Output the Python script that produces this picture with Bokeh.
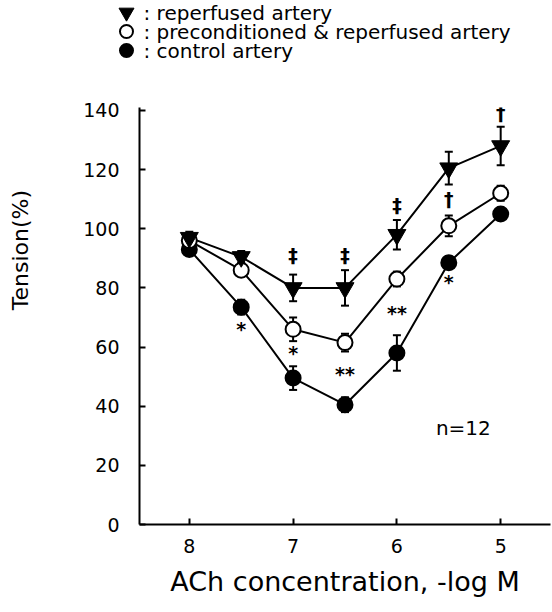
import math
from bokeh.plotting import figure
from bokeh.layouts import column, row
from bokeh.models import (ColumnDataSource, Whisker, TeeHead, Label, FixedTicker, Range1d)
from bokeh.core.properties import value
from bokeh.embed import file_html
from bokeh.resources import INLINE

FONT = "DejaVu Sans"

conc = [8, 7.5, 7, 6.5, 6, 5.5, 5]
reperfused = [97, 90.5, 80, 80, 98, 120.5, 128]
reperfused_err = [2, 2, 4.5, 6, 5, 5.5, 6.5]
precond = [96, 86, 66, 61.5, 83, 101, 112]
precond_err = [2, 2, 4, 3, 2.5, 3.5, 2.5]
control = [93, 73.5, 49.5, 40.5, 58, 88.5, 105]
control_err = [2, 2.5, 4, 2.5, 6, 1.5, 2]

ann_x = [7, 6.5, 6, 5, 5.5, 7.5, 7, 6.5, 6, 5.5]
ann_y = [91, 91, 108, 139, 110, 66, 58, 51, 71.5, 82]
ann_text = ["‡", "‡", "‡", "†", "†", "*", "*", "**", "**", "*"]

y_ticks = [0, 20, 40, 60, 80, 100, 120, 140]
x_ticks = [8, 7, 6, 5]

legend_labels = [": reperfused artery", ": preconditioned & reperfused artery", ": control artery"]
y_title = "Tension(%)"
x_title = "ACh concentration, -log M"

STYLE_R = dict(marker="inverted_triangle", size=18, fill_color="black", line_color="black", line_width=1)
STYLE_P = dict(marker="circle", size=15, fill_color="white", line_color="black", line_width=2)
STYLE_C = dict(marker="circle", size=15, fill_color="black", line_color="black", line_width=2)

# ---------- main plot ----------
p = figure(width=512, height=550, output_backend="svg", toolbar_location=None,
           x_range=Range1d(8.48, 4.52), y_range=Range1d(0, 141),
           min_border_left=99, min_border_right=2, min_border_top=45, min_border_bottom=88)
p.outline_line_color = None
p.grid.visible = False

def series_source(vals, errs):
    return ColumnDataSource(dict(x=conc, y=vals,
                                 lo=[v - e for v, e in zip(vals, errs)],
                                 hi=[v + e for v, e in zip(vals, errs)]))

src_r = series_source(reperfused, reperfused_err)
src_p = series_source(precond, precond_err)
src_c = series_source(control, control_err)

for s in (src_r, src_p, src_c):
    p.line("x", "y", source=s, line_color="black", line_width=2)
    p.add_layout(Whisker(source=s, base="x", upper="hi", lower="lo", line_width=2, line_color="black",
                         upper_head=TeeHead(size=8, line_width=2),
                         lower_head=TeeHead(size=8, line_width=2)))

p.scatter("x", "y", source=src_c, **STYLE_C)
p.scatter("x", "y", source=src_p, **STYLE_P)
p.scatter("x", "y", source=src_r, **STYLE_R)

ann_src = ColumnDataSource(dict(x=ann_x, y=ann_y, t=ann_text))
p.text("x", "y", text="t", source=ann_src, text_align="center", text_baseline="middle",
       text_font=value(FONT), text_font_size="19px", text_font_style="bold", text_color="black")

p.add_layout(Label(x=5.36, y=32.5, text="n=12", text_align="center", text_baseline="middle",
                   text_font=FONT, text_font_size="20px", text_color="black"))

p.xaxis.ticker = FixedTicker(ticks=x_ticks)
p.yaxis.ticker = FixedTicker(ticks=y_ticks)
for ax in (p.xaxis, p.yaxis):
    ax.axis_line_width = 2
    ax.axis_line_color = "black"
    ax.major_tick_in = 6
    ax.major_tick_out = 0
    ax.major_tick_line_width = 2
    ax.minor_tick_line_color = None
    ax.major_label_text_font = FONT
    ax.major_label_text_font_size = "19px"
    ax.major_label_text_color = "black"
    ax.axis_label_text_font = FONT
    ax.axis_label_text_font_style = "normal"
    ax.axis_label_text_color = "black"

p.xaxis.major_label_standoff = 14
p.xaxis.axis_label = x_title
p.xaxis.axis_label_text_font_size = "27px"
p.xaxis.axis_label_standoff = 10
p.yaxis.major_label_standoff = 20

# ---------- legend strip (key drawn in pixel space) ----------
LG_H = 62
lg = figure(width=552, height=LG_H, output_backend="svg", toolbar_location=None,
            x_range=Range1d(0, 552), y_range=Range1d(0, LG_H), min_border=0)
lg.axis.visible = False
lg.grid.visible = False
lg.outline_line_color = None
key_styles = [dict(STYLE_R, size=15), dict(STYLE_P, size=13), dict(STYLE_C, size=13)]
for i, (lab, st) in enumerate(zip(legend_labels, key_styles)):
    ypix = LG_H - 12 - 19 * i
    lg.scatter([126], [ypix], **st)
    lg.add_layout(Label(x=143, y=ypix, text=lab, text_align="left", text_baseline="middle",
                        text_font=FONT, text_font_size="20px", text_color="black"))

# ---------- y title strip ----------
yt = figure(width=40, height=550, output_backend="svg", toolbar_location=None,
            x_range=Range1d(0, 40), y_range=Range1d(0, 550), min_border=0)
yt.axis.visible = False
yt.grid.visible = False
yt.outline_line_color = None
yt.add_layout(Label(x=20, y=362, text=y_title, angle=math.pi / 2,
                    text_align="center", text_baseline="middle",
                    text_font=FONT, text_font_size="22px", text_color="black"))

layout = column(lg, row(yt, p, spacing=0), spacing=0)
open("out.html", "w").write(file_html(layout, INLINE))
